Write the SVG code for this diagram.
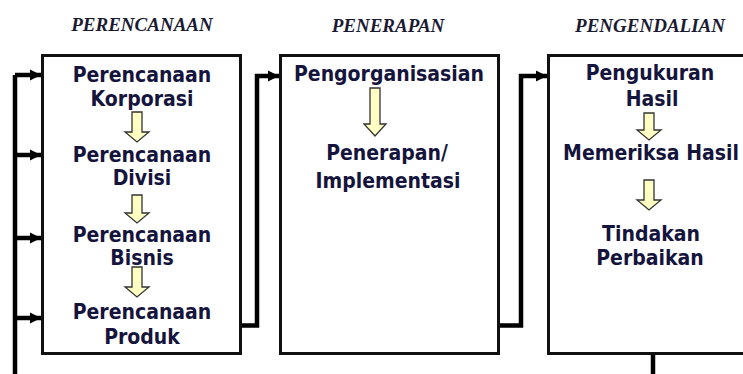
<svg xmlns="http://www.w3.org/2000/svg" width="743" height="374" viewBox="0 0 743 374">
<style>
.hdr{font-family:"Liberation Serif","Times New Roman",serif;font-weight:bold;font-style:italic;font-size:19px;fill:#1a1a33;text-anchor:middle}
.t{font-family:"DejaVu Sans Condensed","DejaVu Sans",sans-serif;font-stretch:condensed;font-weight:bold;font-size:21px;fill:#14143c;text-anchor:middle}
.box{fill:#fff;stroke:#111;stroke-width:3}
.down{fill:#ffffc4;stroke:#333;stroke-width:1.3;stroke-linejoin:miter}
.conn{fill:none;stroke:#000;stroke-width:4.5;stroke-linejoin:miter}
</style>
<defs>
<marker id="ah" markerUnits="userSpaceOnUse" markerWidth="12" markerHeight="12" refX="11" refY="6" orient="auto">
<path d="M0,0.5 L11,6 L0,11.5 z" fill="#000"/>
</marker>
</defs>
<rect width="743" height="374" fill="#fff"/>
<g id="headers">
<text class="hdr" x="142" y="31">PERENCANAAN</text>
<text class="hdr" x="388" y="32">PENERAPAN</text>
<text class="hdr" x="650" y="32">PENGENDALIAN</text>
</g>
<g id="connectors">
<path class="conn" d="M15,374 V75"/>
<path class="conn" d="M15,75 H41" marker-end="url(#ah)"/>
<path class="conn" d="M15,155 H41" marker-end="url(#ah)"/>
<path class="conn" d="M15,238 H41" marker-end="url(#ah)"/>
<path class="conn" d="M15,318 H41" marker-end="url(#ah)"/>
<path class="conn" d="M241,325.5 H257 V76 H279" marker-end="url(#ah)"/>
<path class="conn" d="M499,325.5 H521 V76 H547" marker-end="url(#ah)"/>
<path class="conn" d="M653,354 V374"/>
</g>
<g id="perencanaan">
<rect class="box" x="42.5" y="55.5" width="198" height="298"/>
<text class="t" x="142" y="82">Perencanaan</text>
<text class="t" x="142" y="106">Korporasi</text>
<polygon class="down" points="132,112 142,112 142,132 149,132 137,142 125,132 132,132"/>
<text class="t" x="142" y="162">Perencanaan</text>
<text class="t" x="142" y="185">Divisi</text>
<polygon class="down" points="132,195 142,195 142,213 149,213 137,223 125,213 132,213"/>
<text class="t" x="142" y="242">Perencanaan</text>
<text class="t" x="142" y="265">Bisnis</text>
<polygon class="down" points="132,267 142,267 142,287 149,287 137,297 125,287 132,287"/>
<text class="t" x="142" y="319">Perencanaan</text>
<text class="t" x="142" y="344">Produk</text>
</g>
<g id="penerapan">
<rect class="box" x="280.5" y="55.5" width="218" height="298"/>
<text class="t" x="389" y="81">Pengorganisasian</text>
<polygon class="down" points="370,88 380,88 380,124 386,124 375,136 364,124 370,124"/>
<text class="t" x="387" y="160">Penerapan/</text>
<text class="t" x="388" y="188">Implementasi</text>
</g>
<g id="pengendalian">
<rect class="box" x="548.5" y="55.5" width="220" height="298"/>
<text class="t" x="650" y="80">Pengukuran</text>
<text class="t" x="652" y="106">Hasil</text>
<polygon class="down" points="644,113 654,113 654,130 661,130 649,140 637,130 644,130"/>
<text class="t" x="651" y="160">Memeriksa Hasil</text>
<polygon class="down" points="644,180 654,180 654,200 661,200 649,210 637,200 644,200"/>
<text class="t" x="651" y="241">Tindakan</text>
<text class="t" x="650" y="265">Perbaikan</text>
</g>
</svg>
